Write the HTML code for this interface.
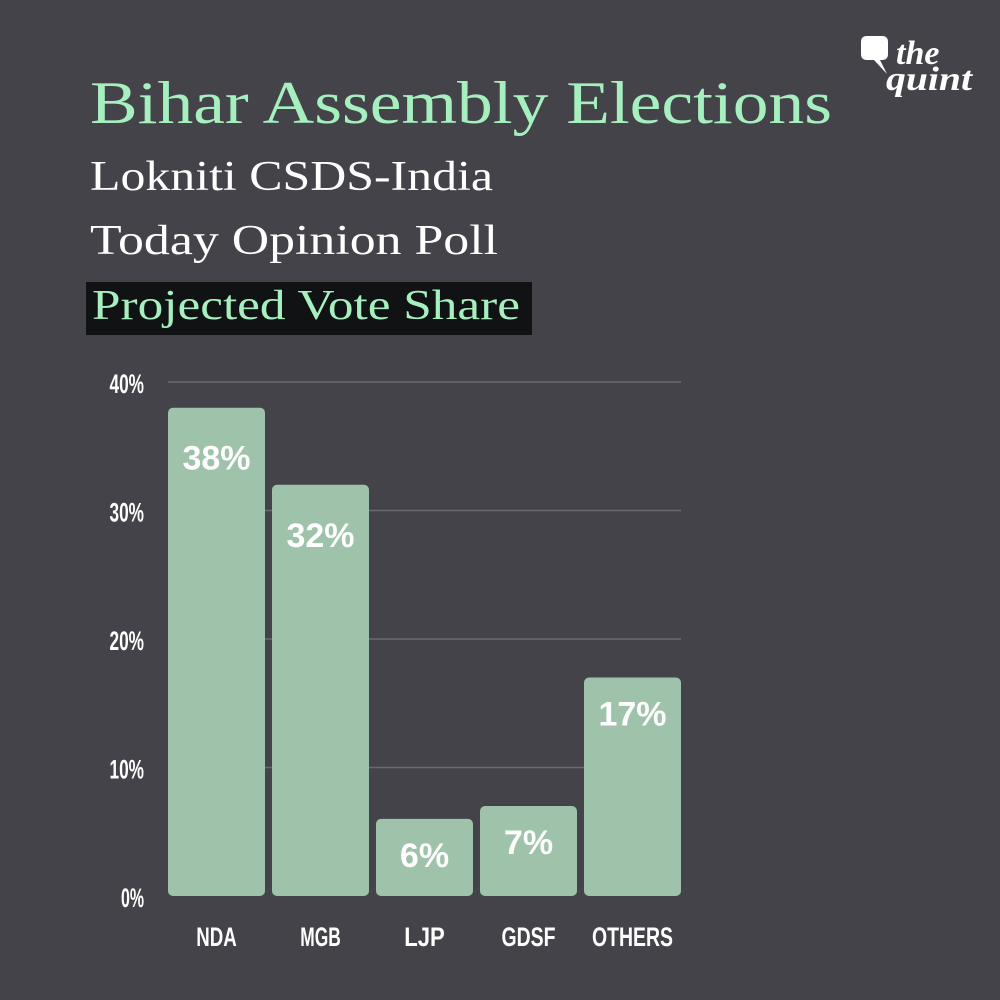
<!DOCTYPE html>
<html><head><meta charset="utf-8"><style>
html,body{margin:0;padding:0;background:#444349;}
svg{display:block}
</style></head><body>
<svg id="chart" width="1000" height="1000" viewBox="0 0 1000 1000" xmlns="http://www.w3.org/2000/svg">
<rect width="1000" height="1000" fill="#444349"/>
<text x="90" y="123" font-family="Liberation Serif, serif" font-size="60" fill="#a6efbf" textLength="742" lengthAdjust="spacingAndGlyphs">Bihar Assembly Elections</text>
<text x="90" y="190" font-family="Liberation Serif, serif" font-size="42" fill="#ffffff" textLength="403" lengthAdjust="spacingAndGlyphs">Lokniti CSDS-India</text>
<text x="90" y="254" font-family="Liberation Serif, serif" font-size="42" fill="#ffffff" textLength="408" lengthAdjust="spacingAndGlyphs">Today Opinion Poll</text>
<rect x="86" y="282" width="446" height="53" fill="#111214"/>
<text x="92" y="319" font-family="Liberation Serif, serif" font-size="42" fill="#a6efbf" textLength="428" lengthAdjust="spacingAndGlyphs">Projected Vote Share</text>
<g>
<path d="M867 36 h15 q6 0 6 6 v12 q0 6 -6 6 h-2 l7 14 l-13 -14 h-7 q-6 0 -6 -6 v-12 q0 -6 6 -6z" fill="#fff"/>
<text x="896" y="64" font-family="Liberation Serif, serif" font-style="italic" font-weight="bold" font-size="34" fill="#fff">the</text>
<text x="886" y="90" font-family="Liberation Serif, serif" font-style="italic" font-weight="bold" font-size="34" fill="#fff" textLength="86" lengthAdjust="spacingAndGlyphs">quint</text>
</g>
<g id="grid"></g><g id="bars"></g><g id="labels"></g>
</svg>
<script>
const categories = ["NDA","MGB","LJP","GDSF","OTHERS"];
const values = [38,32,6,7,17];
const valueLabels = ["38%","32%","6%","7%","17%"];
const ticks = [0,10,20,30,40];
const tickLabels = ["0%","10%","20%","30%","40%"];
const NS="http://www.w3.org/2000/svg";
const y0=896, pxPer=12.85, xStart=168, step=104, bw=97;
const y = v => y0 - v*pxPer;
const x = i => xStart + i*step;
function mk(tag, attrs, parent){const e=document.createElementNS(NS,tag);for(const k in attrs)e.setAttribute(k,attrs[k]);document.getElementById(parent).appendChild(e);return e;}
ticks.forEach((t,i)=>{
  if(t>0){const l=mk('line',{x1:168,x2:681,y1:y(t),y2:y(t),stroke:'#6b6a70','stroke-width':1.5},'grid');
  
  }
  const tx=mk('text',{x:144,y:y(t)+11,'text-anchor':'end','font-family':'Liberation Sans Narrow, Liberation Sans, sans-serif','font-weight':'bold','font-size':27,fill:'#fff',textLength:tickLabels[i].length*11.5,lengthAdjust:'spacingAndGlyphs'},'grid');
  tx.textContent=tickLabels[i];
  
  
});
categories.forEach((c,i)=>{
  const r=mk('rect',{x:x(i),y:y(values[i]),width:bw,height:y0-y(values[i]),rx:5,fill:'#9fc3aa'},'bars');
  
  
  const v=mk('text',{x:x(i)+bw/2,y:y(values[i])+(values[i]>30?62:48),'text-anchor':'middle','font-family':'Liberation Sans, sans-serif','font-weight':'bold','font-size':34,fill:'#fff'},'labels');
  v.textContent=valueLabels[i];
  
  
  const xl=mk('text',{x:x(i)+bw/2,y:946,'text-anchor':'middle','font-family':'Liberation Sans Narrow, Liberation Sans, sans-serif','font-weight':'bold','font-size':27,fill:'#fff',textLength:c.length*13.5,lengthAdjust:'spacingAndGlyphs'},'labels');
  xl.textContent=c;
  
  
});
</script>
</body></html>
